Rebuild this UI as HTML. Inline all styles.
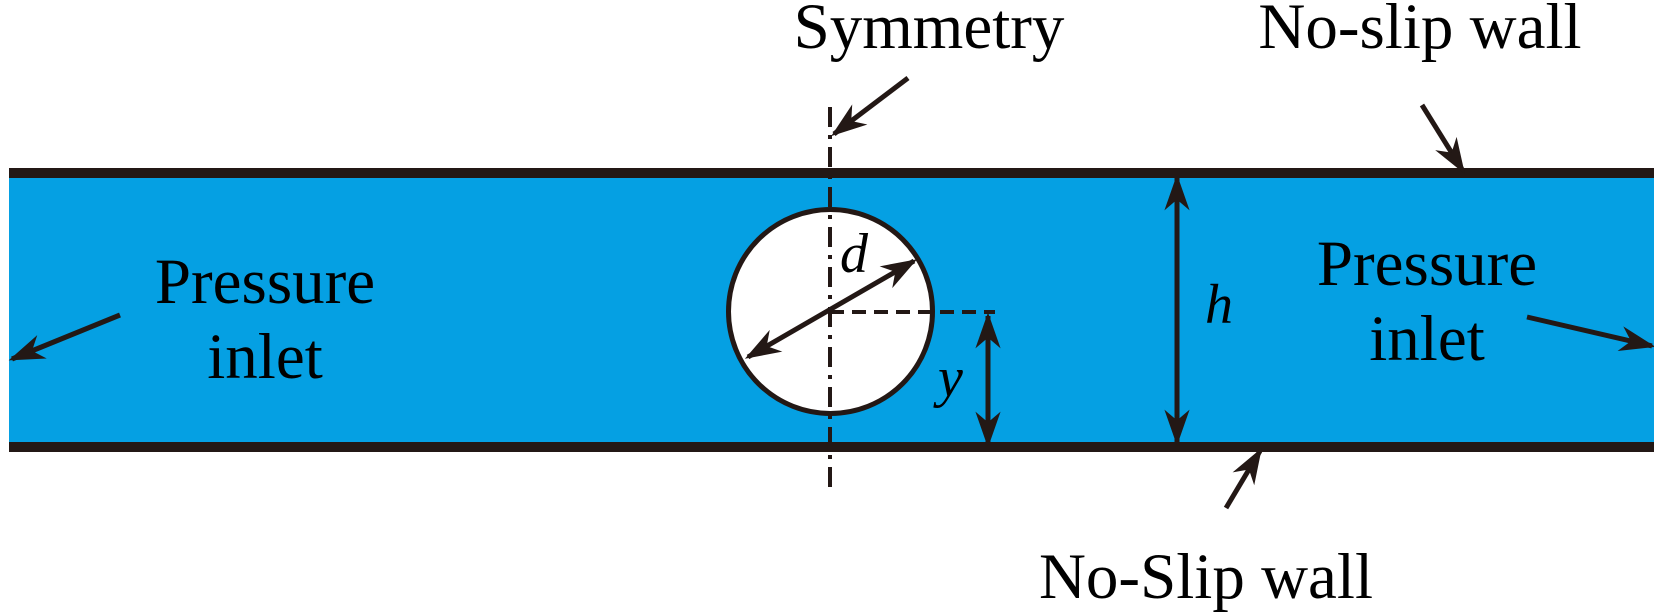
<!DOCTYPE html>
<html><head><meta charset="utf-8"><style>html,body{margin:0;padding:0;background:#fff}svg{display:block}</style></head>
<body>
<svg width="1654" height="612" viewBox="0 0 1654 612" xmlns="http://www.w3.org/2000/svg" font-family="'Liberation Serif', serif">
<defs>
<marker id="b" viewBox="0 0 10 10" refX="9" refY="5" markerWidth="36" markerHeight="36" orient="auto-start-reverse" markerUnits="userSpaceOnUse">
<path d="M0,1.5 L10,5 L0,8.5 L3,5 z" fill="#231815"/></marker>
</defs>
<rect x="9" y="173" width="1645" height="274" fill="#05a0e3"/>
<line x1="9" y1="173" x2="1654" y2="173" stroke="#231815" stroke-width="10"/>
<line x1="9" y1="447" x2="1654" y2="447" stroke="#231815" stroke-width="10"/>
<circle cx="830.5" cy="311.5" r="102" fill="#fff" stroke="#231815" stroke-width="5"/>
<line x1="830" y1="107" x2="830" y2="495" stroke="#231815" stroke-width="4" stroke-dasharray="20,8,4,8"/>
<line x1="830" y1="312" x2="995" y2="312" stroke="#231815" stroke-width="4" stroke-dasharray="14,8"/>
<g stroke="#231815" stroke-width="5" fill="none">
<line x1="748" y1="357" x2="914" y2="261" marker-start="url(#b)" marker-end="url(#b)"/>
<line x1="988" y1="316" x2="988" y2="444" marker-start="url(#b)" marker-end="url(#b)"/>
<line x1="1177" y1="178" x2="1177" y2="442" marker-start="url(#b)" marker-end="url(#b)"/>
<line x1="908" y1="78" x2="834" y2="134" marker-end="url(#b)"/>
<line x1="1422" y1="105" x2="1463" y2="171" marker-end="url(#b)"/>
<line x1="1226" y1="508" x2="1260" y2="451" marker-end="url(#b)"/>
<line x1="120" y1="315" x2="12" y2="359" marker-end="url(#b)"/>
<line x1="1527" y1="317" x2="1652" y2="346" marker-end="url(#b)"/>
</g>
<g fill="#000" font-size="65" text-anchor="middle">
<text x="929" y="48">Symmetry</text>
<text x="1420" y="48">No-slip wall</text>
<text x="1206" y="598">No-Slip wall</text>
<text x="265" y="303">Pressure</text>
<text x="265" y="378">inlet</text>
<text x="1427" y="285">Pressure</text>
<text x="1427" y="360">inlet</text>
</g>
<g fill="#000" font-size="56" font-style="italic">
<text x="840" y="272">d</text>
<text x="1205" y="323">h</text>
<text x="938" y="396">y</text>
</g>
</svg>
</body></html>
